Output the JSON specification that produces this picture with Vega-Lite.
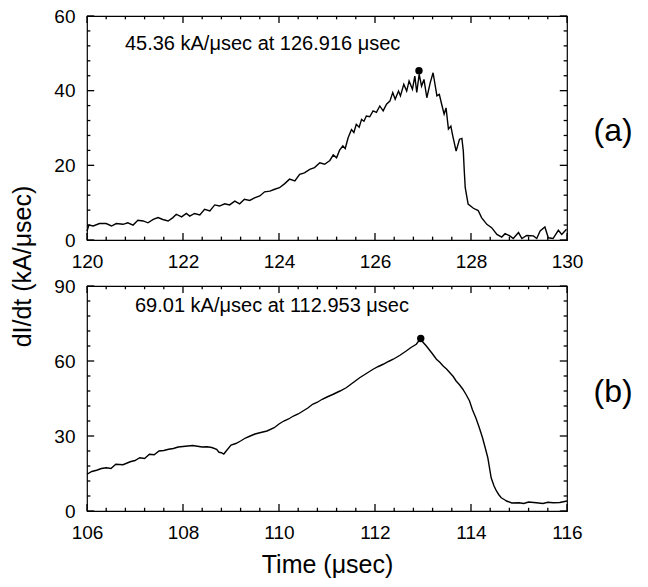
{
  "$schema": "https://vega.github.io/schema/vega-lite/v6.json",
  "padding": {"left": 10, "top": 6, "right": 5, "bottom": 5},
  "background": "white",
  "bounds": "flush",
  "spacing": 46,
  "config": {
    "font": "Liberation Sans",
    "view": {"stroke": "black", "strokeWidth": 1.2},
    "axis": {
      "grid": false,
      "domain": false,
      "ticks": false,
      "labelColor": "black",
      "titleColor": "black",
      "labelFont": "Liberation Sans",
      "titleFont": "Liberation Sans",
      "labelFontSize": 19,
      "titleFontSize": 25,
      "titleFontWeight": "normal",
      "labelPadding": 12,
      "labelFlush": false,
      "format": "d"
    }
  },
  "datasets": {
    "xa_major": [{"p":120},{"p":122},{"p":124},{"p":126},{"p":128},{"p":130}],
    "xa_minor": [{"p":120.4},{"p":120.8},{"p":121.2},{"p":121.6},{"p":122.4},{"p":122.8},{"p":123.2},{"p":123.6},{"p":124.4},{"p":124.8},{"p":125.2},{"p":125.6},{"p":126.4},{"p":126.8},{"p":127.2},{"p":127.6},{"p":128.4},{"p":128.8},{"p":129.2},{"p":129.6}],
    "ya_major": [{"p":0},{"p":20},{"p":40},{"p":60}],
    "ya_minor": [{"p":4},{"p":8},{"p":12},{"p":16},{"p":24},{"p":28},{"p":32},{"p":36},{"p":44},{"p":48},{"p":52},{"p":56}],
    "xb_major": [{"p":106},{"p":108},{"p":110},{"p":112},{"p":114},{"p":116}],
    "xb_minor": [{"p":106.4},{"p":106.8},{"p":107.2},{"p":107.6},{"p":108.4},{"p":108.8},{"p":109.2},{"p":109.6},{"p":110.4},{"p":110.8},{"p":111.2},{"p":111.6},{"p":112.4},{"p":112.8},{"p":113.2},{"p":113.6},{"p":114.4},{"p":114.8},{"p":115.2},{"p":115.6}],
    "yb_major": [{"p":0},{"p":30},{"p":60},{"p":90}],
    "yb_minor": [{"p":6},{"p":12},{"p":18},{"p":24},{"p":36},{"p":42},{"p":48},{"p":54},{"p":66},{"p":72},{"p":78},{"p":84}],
    "a": [
      {"t":120.00,"v":2.4},{"t":120.04,"v":4.0},{"t":120.13,"v":3.75},{"t":120.26,"v":4.4},{"t":120.40,"v":4.4},
      {"t":120.51,"v":3.75},{"t":120.61,"v":4.4},{"t":120.75,"v":4.2},{"t":120.85,"v":4.6},{"t":120.96,"v":4.0},
      {"t":121.06,"v":5.3},{"t":121.17,"v":5.1},{"t":121.27,"v":4.6},{"t":121.38,"v":5.5},{"t":121.48,"v":6.0},
      {"t":121.58,"v":5.5},{"t":121.69,"v":5.1},{"t":121.79,"v":6.0},{"t":121.86,"v":6.9},{"t":121.97,"v":6.2},
      {"t":122.07,"v":7.1},{"t":122.14,"v":6.4},{"t":122.24,"v":7.1},{"t":122.35,"v":6.7},{"t":122.45,"v":8.2},
      {"t":122.56,"v":7.8},{"t":122.66,"v":9.4},{"t":122.76,"v":9.1},{"t":122.87,"v":9.7},{"t":122.97,"v":9.4},
      {"t":123.08,"v":10.4},{"t":123.18,"v":9.7},{"t":123.28,"v":10.9},{"t":123.39,"v":10.6},{"t":123.49,"v":11.3},
      {"t":123.60,"v":11.8},{"t":123.70,"v":12.9},{"t":123.81,"v":13.1},{"t":123.91,"v":13.6},{"t":124.01,"v":14.0},
      {"t":124.12,"v":15.1},{"t":124.22,"v":16.3},{"t":124.33,"v":15.8},{"t":124.43,"v":17.6},{"t":124.53,"v":18.0},
      {"t":124.64,"v":18.9},{"t":124.74,"v":19.4},{"t":124.85,"v":20.7},{"t":124.95,"v":20.3},{"t":125.06,"v":21.3},
      {"t":125.13,"v":22.8},{"t":125.20,"v":22.0},{"t":125.26,"v":24.0},{"t":125.33,"v":25.2},{"t":125.38,"v":24.5},
      {"t":125.44,"v":27.4},{"t":125.51,"v":29.6},{"t":125.56,"v":28.8},{"t":125.61,"v":31.0},{"t":125.67,"v":30.2},
      {"t":125.72,"v":32.3},{"t":125.77,"v":31.8},{"t":125.82,"v":33.2},{"t":125.89,"v":33.0},{"t":125.96,"v":34.6},
      {"t":126.03,"v":34.2},{"t":126.10,"v":35.9},{"t":126.17,"v":34.6},{"t":126.24,"v":36.4},{"t":126.31,"v":37.2},
      {"t":126.37,"v":39.5},{"t":126.42,"v":37.7},{"t":126.49,"v":39.9},{"t":126.53,"v":38.6},{"t":126.60,"v":41.7},
      {"t":126.66,"v":39.9},{"t":126.71,"v":42.6},{"t":126.78,"v":40.4},{"t":126.83,"v":43.9},{"t":126.87,"v":39.5},
      {"t":126.92,"v":44.4},{"t":126.97,"v":41.2},{"t":127.02,"v":43.0},{"t":127.08,"v":38.1},{"t":127.15,"v":42.1},
      {"t":127.21,"v":44.8},{"t":127.29,"v":38.6},{"t":127.34,"v":39.0},{"t":127.39,"v":36.3},{"t":127.44,"v":33.7},
      {"t":127.48,"v":35.4},{"t":127.53,"v":29.7},{"t":127.58,"v":30.5},{"t":127.62,"v":27.9},{"t":127.69,"v":23.8},
      {"t":127.76,"v":27.0},{"t":127.81,"v":27.2},{"t":127.84,"v":23.8},{"t":127.86,"v":18.5},{"t":127.88,"v":14.0},
      {"t":127.94,"v":9.6},{"t":128.05,"v":8.5},{"t":128.15,"v":7.9},{"t":128.22,"v":6.0},{"t":128.33,"v":4.2},
      {"t":128.43,"v":3.3},{"t":128.54,"v":1.5},{"t":128.64,"v":0.8},{"t":128.71,"v":1.7},{"t":128.81,"v":1.1},
      {"t":128.88,"v":0.4},{"t":128.99,"v":2.0},{"t":129.06,"v":0.4},{"t":129.16,"v":1.2},{"t":129.30,"v":1.1},
      {"t":129.37,"v":0.4},{"t":129.44,"v":2.4},{"t":129.54,"v":3.5},{"t":129.61,"v":0.6},{"t":129.71,"v":0.4},
      {"t":129.82,"v":2.6},{"t":129.89,"v":1.5},{"t":129.99,"v":2.9}
    ],
    "b": [
      {"t":106.0,"v":14.7},{"t":106.1,"v":15.8},{"t":106.2,"v":16.3},{"t":106.3,"v":17.0},{"t":106.4,"v":17.3},
      {"t":106.5,"v":17.0},{"t":106.6,"v":18.7},{"t":106.75,"v":18.5},{"t":106.9,"v":19.7},{"t":107.0,"v":20.2},
      {"t":107.1,"v":21.3},{"t":107.2,"v":21.0},{"t":107.3,"v":22.7},{"t":107.4,"v":22.5},{"t":107.5,"v":24.0},
      {"t":107.6,"v":24.2},{"t":107.7,"v":24.7},{"t":107.8,"v":25.0},{"t":107.9,"v":25.6},{"t":108.0,"v":25.8},
      {"t":108.1,"v":26.0},{"t":108.2,"v":26.2},{"t":108.3,"v":25.9},{"t":108.4,"v":25.6},{"t":108.5,"v":25.7},
      {"t":108.6,"v":25.4},{"t":108.7,"v":24.7},{"t":108.75,"v":23.5},{"t":108.8,"v":23.3},{"t":108.85,"v":22.8},
      {"t":108.9,"v":24.0},{"t":109.0,"v":26.4},{"t":109.1,"v":27.0},{"t":109.2,"v":28.0},{"t":109.3,"v":29.2},
      {"t":109.4,"v":30.0},{"t":109.5,"v":30.8},{"t":109.6,"v":31.3},{"t":109.75,"v":32.0},{"t":109.9,"v":33.3},
      {"t":110.0,"v":34.8},{"t":110.1,"v":36.0},{"t":110.2,"v":36.8},{"t":110.3,"v":38.0},{"t":110.4,"v":38.8},
      {"t":110.5,"v":40.0},{"t":110.6,"v":41.2},{"t":110.7,"v":42.7},{"t":110.8,"v":43.5},{"t":110.9,"v":44.7},
      {"t":111.0,"v":45.6},{"t":111.13,"v":46.7},{"t":111.27,"v":48.0},{"t":111.4,"v":49.3},{"t":111.54,"v":51.3},
      {"t":111.68,"v":53.3},{"t":111.82,"v":55.0},{"t":111.96,"v":56.7},{"t":112.07,"v":57.8},{"t":112.17,"v":58.7},
      {"t":112.28,"v":59.8},{"t":112.38,"v":60.7},{"t":112.52,"v":62.3},{"t":112.65,"v":64.0},{"t":112.75,"v":65.4},
      {"t":112.86,"v":66.7},{"t":112.95,"v":69.0},{"t":113.0,"v":67.5},{"t":113.07,"v":66.0},{"t":113.18,"v":63.3},
      {"t":113.28,"v":60.7},{"t":113.35,"v":59.5},{"t":113.42,"v":58.0},{"t":113.49,"v":56.8},{"t":113.56,"v":55.3},
      {"t":113.63,"v":53.8},{"t":113.69,"v":52.0},{"t":113.76,"v":50.5},{"t":113.83,"v":48.7},{"t":113.9,"v":46.5},
      {"t":113.97,"v":44.0},{"t":114.03,"v":40.5},{"t":114.1,"v":37.3},{"t":114.17,"v":33.5},{"t":114.24,"v":29.3},
      {"t":114.3,"v":25.0},{"t":114.35,"v":21.3},{"t":114.42,"v":13.3},{"t":114.48,"v":10.0},{"t":114.53,"v":8.0},
      {"t":114.58,"v":6.5},{"t":114.63,"v":5.3},{"t":114.7,"v":4.5},{"t":114.74,"v":4.0},{"t":114.85,"v":3.2},
      {"t":115.0,"v":3.3},{"t":115.1,"v":3.0},{"t":115.2,"v":3.6},{"t":115.36,"v":3.3},{"t":115.5,"v":3.0},
      {"t":115.6,"v":3.5},{"t":115.71,"v":3.3},{"t":115.85,"v":3.4},{"t":116.0,"v":4.0}
    ]
  },
  "vconcat": [
    {
      "width": 480,
      "height": 224,
      "layer": [
        {
          "data": {"name": "a"},
          "mark": {"type": "line", "color": "black", "strokeWidth": 1.4},
          "encoding": {
            "x": {"field": "t", "type": "quantitative",
              "scale": {"domain": [120, 130], "nice": false},
              "axis": {"orient": "bottom", "title": null, "values": [120,122,124,126,128,130]}},
            "y": {"field": "v", "type": "quantitative",
              "scale": {"domain": [0, 60], "nice": false},
              "axis": {"orient": "left", "title": null, "values": [0,20,40,60]}}
          }
        },
        {
          "data": {"values": [{"t": 126.916, "v": 45.36}]},
          "mark": {"type": "point", "filled": true, "color": "black", "size": 55, "opacity": 1},
          "encoding": {
            "x": {"field": "t", "type": "quantitative", "scale": {"domain": [120, 130], "nice": false}, "axis": null},
            "y": {"field": "v", "type": "quantitative",
              "scale": {"domain": [0, 60], "nice": false},
              "axis": {"orient": "right", "title": "(a)", "labels": false, "values": [0,20,40,60],
                "titleAngle": 0, "titleAlign": "left", "titleBaseline": "middle",
                "titleFontSize": 32, "titlePadding": 26, "titleY": 114}}
          }
        },
        {"data": {"name": "xa_major"}, "mark": {"type": "rule", "color": "black", "strokeWidth": 1.3},
          "encoding": {"x": {"field": "p", "type": "quantitative", "scale": {"domain": [120, 130], "nice": false}, "axis": null},
            "y": {"datum": 0, "type": "quantitative", "scale": {"domain": [0, 60], "nice": false}, "axis": null}, "y2": {"datum": 1.9}}},
        {"data": {"name": "xa_major"}, "mark": {"type": "rule", "color": "black", "strokeWidth": 1.3},
          "encoding": {"x": {"field": "p", "type": "quantitative", "scale": {"domain": [120, 130], "nice": false}, "axis": null},
            "y": {"datum": 60, "type": "quantitative", "scale": {"domain": [0, 60], "nice": false}, "axis": null}, "y2": {"datum": 58.1}}},
        {"data": {"name": "xa_minor"}, "mark": {"type": "rule", "color": "black", "strokeWidth": 1.3},
          "encoding": {"x": {"field": "p", "type": "quantitative", "scale": {"domain": [120, 130], "nice": false}, "axis": null},
            "y": {"datum": 0, "type": "quantitative", "scale": {"domain": [0, 60], "nice": false}, "axis": null}, "y2": {"datum": 0.9}}},
        {"data": {"name": "xa_minor"}, "mark": {"type": "rule", "color": "black", "strokeWidth": 1.3},
          "encoding": {"x": {"field": "p", "type": "quantitative", "scale": {"domain": [120, 130], "nice": false}, "axis": null},
            "y": {"datum": 60, "type": "quantitative", "scale": {"domain": [0, 60], "nice": false}, "axis": null}, "y2": {"datum": 59.1}}},
        {"data": {"name": "ya_major"}, "mark": {"type": "rule", "color": "black", "strokeWidth": 1.3},
          "encoding": {"y": {"field": "p", "type": "quantitative", "scale": {"domain": [0, 60], "nice": false}, "axis": null},
            "x": {"datum": 120, "type": "quantitative", "scale": {"domain": [120, 130], "nice": false}, "axis": null}, "x2": {"datum": 120.15}}},
        {"data": {"name": "ya_major"}, "mark": {"type": "rule", "color": "black", "strokeWidth": 1.3},
          "encoding": {"y": {"field": "p", "type": "quantitative", "scale": {"domain": [0, 60], "nice": false}, "axis": null},
            "x": {"datum": 130, "type": "quantitative", "scale": {"domain": [120, 130], "nice": false}, "axis": null}, "x2": {"datum": 129.85}}},
        {"data": {"name": "ya_minor"}, "mark": {"type": "rule", "color": "black", "strokeWidth": 1.3},
          "encoding": {"y": {"field": "p", "type": "quantitative", "scale": {"domain": [0, 60], "nice": false}, "axis": null},
            "x": {"datum": 120, "type": "quantitative", "scale": {"domain": [120, 130], "nice": false}, "axis": null}, "x2": {"datum": 120.07}}},
        {"data": {"name": "ya_minor"}, "mark": {"type": "rule", "color": "black", "strokeWidth": 1.3},
          "encoding": {"y": {"field": "p", "type": "quantitative", "scale": {"domain": [0, 60], "nice": false}, "axis": null},
            "x": {"datum": 130, "type": "quantitative", "scale": {"domain": [120, 130], "nice": false}, "axis": null}, "x2": {"datum": 129.93}}},
        {
          "data": {"values": [{"t": 120.79, "v": 52.5, "label": "45.36 kA/μsec at 126.916 μsec"}]},
          "mark": {"type": "text", "align": "left", "baseline": "middle", "fontSize": 20, "font": "Liberation Sans", "color": "black"},
          "encoding": {
            "x": {"field": "t", "type": "quantitative", "scale": {"domain": [120, 130], "nice": false}, "axis": null},
            "y": {"field": "v", "type": "quantitative", "scale": {"domain": [0, 60], "nice": false}, "axis": null},
            "text": {"field": "label"}
          }
        }
      ],
      "resolve": {"axis": {"x": "independent", "y": "independent"}}
    },
    {
      "width": 480,
      "height": 225,
      "layer": [
        {
          "data": {"name": "b"},
          "mark": {"type": "line", "color": "black", "strokeWidth": 1.4},
          "encoding": {
            "x": {"field": "t", "type": "quantitative",
              "scale": {"domain": [106, 116], "nice": false},
              "axis": {"orient": "bottom", "title": "Time (μsec)", "titlePadding": 10, "values": [106,108,110,112,114,116]}},
            "y": {"field": "v", "type": "quantitative",
              "scale": {"domain": [0, 90], "nice": false},
              "axis": {"orient": "left", "title": "dI/dt (kA/μsec)", "titlePadding": 18, "titleY": -20, "values": [0,30,60,90]}}
          }
        },
        {
          "data": {"values": [{"t": 112.953, "v": 69.01}]},
          "mark": {"type": "point", "filled": true, "color": "black", "size": 55, "opacity": 1},
          "encoding": {
            "x": {"field": "t", "type": "quantitative", "scale": {"domain": [106, 116], "nice": false}, "axis": null},
            "y": {"field": "v", "type": "quantitative",
              "scale": {"domain": [0, 90], "nice": false},
              "axis": {"orient": "right", "title": "(b)", "labels": false, "values": [0,30,60,90],
                "titleAngle": 0, "titleAlign": "left", "titleBaseline": "middle",
                "titleFontSize": 32, "titlePadding": 26, "titleY": 105}}
          }
        },
        {"data": {"name": "xb_major"}, "mark": {"type": "rule", "color": "black", "strokeWidth": 1.3},
          "encoding": {"x": {"field": "p", "type": "quantitative", "scale": {"domain": [106, 116], "nice": false}, "axis": null},
            "y": {"datum": 0, "type": "quantitative", "scale": {"domain": [0, 90], "nice": false}, "axis": null}, "y2": {"datum": 2.8}}},
        {"data": {"name": "xb_major"}, "mark": {"type": "rule", "color": "black", "strokeWidth": 1.3},
          "encoding": {"x": {"field": "p", "type": "quantitative", "scale": {"domain": [106, 116], "nice": false}, "axis": null},
            "y": {"datum": 90, "type": "quantitative", "scale": {"domain": [0, 90], "nice": false}, "axis": null}, "y2": {"datum": 87.2}}},
        {"data": {"name": "xb_minor"}, "mark": {"type": "rule", "color": "black", "strokeWidth": 1.3},
          "encoding": {"x": {"field": "p", "type": "quantitative", "scale": {"domain": [106, 116], "nice": false}, "axis": null},
            "y": {"datum": 0, "type": "quantitative", "scale": {"domain": [0, 90], "nice": false}, "axis": null}, "y2": {"datum": 1.3}}},
        {"data": {"name": "xb_minor"}, "mark": {"type": "rule", "color": "black", "strokeWidth": 1.3},
          "encoding": {"x": {"field": "p", "type": "quantitative", "scale": {"domain": [106, 116], "nice": false}, "axis": null},
            "y": {"datum": 90, "type": "quantitative", "scale": {"domain": [0, 90], "nice": false}, "axis": null}, "y2": {"datum": 88.7}}},
        {"data": {"name": "yb_major"}, "mark": {"type": "rule", "color": "black", "strokeWidth": 1.3},
          "encoding": {"y": {"field": "p", "type": "quantitative", "scale": {"domain": [0, 90], "nice": false}, "axis": null},
            "x": {"datum": 106, "type": "quantitative", "scale": {"domain": [106, 116], "nice": false}, "axis": null}, "x2": {"datum": 106.15}}},
        {"data": {"name": "yb_major"}, "mark": {"type": "rule", "color": "black", "strokeWidth": 1.3},
          "encoding": {"y": {"field": "p", "type": "quantitative", "scale": {"domain": [0, 90], "nice": false}, "axis": null},
            "x": {"datum": 116, "type": "quantitative", "scale": {"domain": [106, 116], "nice": false}, "axis": null}, "x2": {"datum": 115.85}}},
        {"data": {"name": "yb_minor"}, "mark": {"type": "rule", "color": "black", "strokeWidth": 1.3},
          "encoding": {"y": {"field": "p", "type": "quantitative", "scale": {"domain": [0, 90], "nice": false}, "axis": null},
            "x": {"datum": 106, "type": "quantitative", "scale": {"domain": [106, 116], "nice": false}, "axis": null}, "x2": {"datum": 106.07}}},
        {"data": {"name": "yb_minor"}, "mark": {"type": "rule", "color": "black", "strokeWidth": 1.3},
          "encoding": {"y": {"field": "p", "type": "quantitative", "scale": {"domain": [0, 90], "nice": false}, "axis": null},
            "x": {"datum": 116, "type": "quantitative", "scale": {"domain": [106, 116], "nice": false}, "axis": null}, "x2": {"datum": 115.93}}},
        {
          "data": {"values": [{"t": 107.0, "v": 82, "label": "69.01 kA/μsec at 112.953 μsec"}]},
          "mark": {"type": "text", "align": "left", "baseline": "middle", "fontSize": 20, "font": "Liberation Sans", "color": "black"},
          "encoding": {
            "x": {"field": "t", "type": "quantitative", "scale": {"domain": [106, 116], "nice": false}, "axis": null},
            "y": {"field": "v", "type": "quantitative", "scale": {"domain": [0, 90], "nice": false}, "axis": null},
            "text": {"field": "label"}
          }
        }
      ],
      "resolve": {"axis": {"x": "independent", "y": "independent"}}
    }
  ]
}
